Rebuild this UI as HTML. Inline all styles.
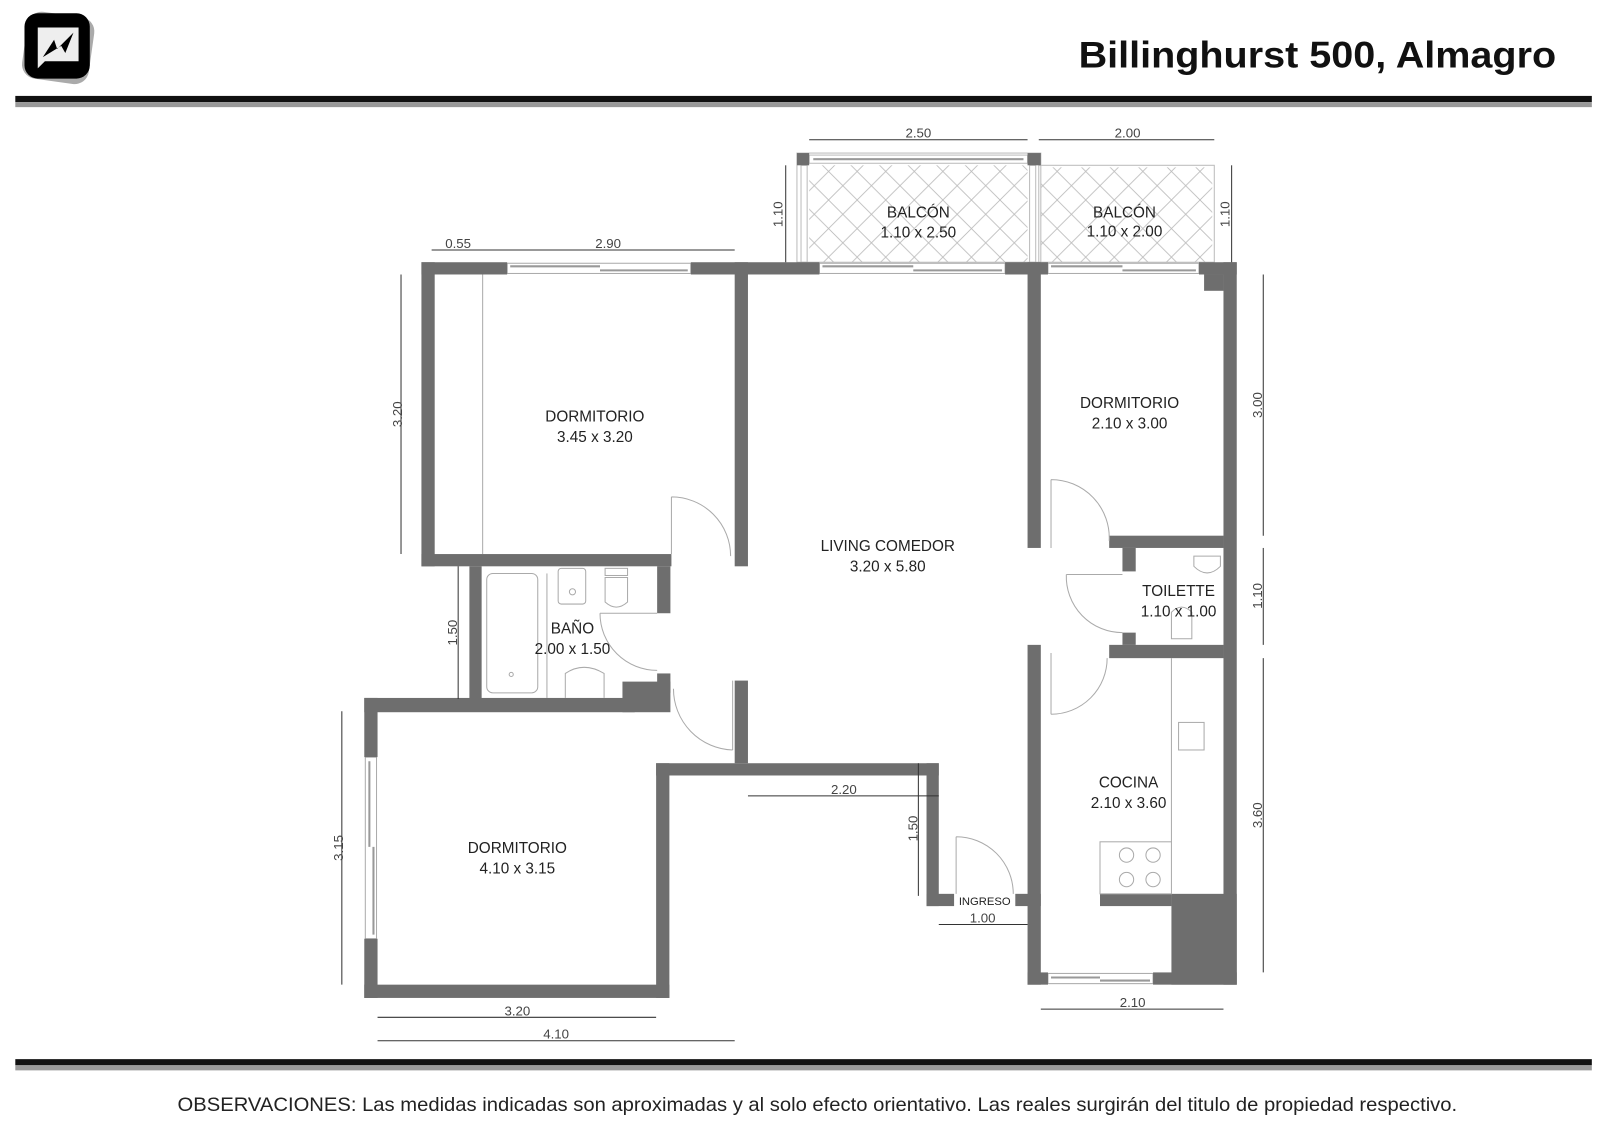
<!DOCTYPE html>
<html><head><meta charset="utf-8">
<style>
html,body{margin:0;padding:0;background:#fff;}
svg{display:block;}
</style></head>
<body>
<svg width="1600" height="1127" viewBox="0 0 1568 1104.5" preserveAspectRatio="none" xmlns="http://www.w3.org/2000/svg">
<defs>
<pattern id="hatch" width="28" height="28" patternUnits="userSpaceOnUse">
<path d="M0 0 L28 28 M28 0 L0 28" stroke="#bbb" stroke-width="0.8" fill="none"/>
</pattern>
</defs>
<rect width="1568" height="1104.5" fill="#fff"/>
<!-- logo -->
<rect x="24" y="14" width="66" height="66" rx="14" fill="#aaa" transform="rotate(8 57 47)"/>
<rect x="24" y="13" width="64" height="64" rx="13" fill="#000"/>
<path d="M37 27 H77 V60 H44 L37 67 Z" fill="#eee"/>
<path d="M42 56 L53 39 L56 48 L72 32 L64 52 L60 45 Z" fill="#000"/>
<!-- title -->
<text x="1525" y="66" text-anchor="end" font-family="Liberation Sans, sans-serif" font-weight="bold" font-size="36" textLength="468" lengthAdjust="spacingAndGlyphs" fill="#111">Billinghurst 500, Almagro</text>
<!-- rules -->
<rect x="15" y="94" width="1545" height="6" fill="#111"/>
<rect x="15" y="100" width="1545" height="5" fill="#999"/>
<rect x="15" y="1038" width="1545" height="6" fill="#111"/>
<rect x="15" y="1044" width="1545" height="5" fill="#999"/>
<text x="174" y="1089" font-family="Liberation Sans, sans-serif" font-size="19" textLength="1254" lengthAdjust="spacingAndGlyphs" fill="#222">OBSERVACIONES: Las medidas indicadas son aproximadas y al solo efecto orientativo. Las reales surgirán del titulo de propiedad respectivo.</text>

<!-- balconies -->
<rect x="793" y="162" width="214" height="95" fill="url(#hatch)"/>
<rect x="1020" y="164" width="168" height="93" fill="url(#hatch)"/>
<g fill="none" stroke="#bbb" stroke-width="1">
<rect x="781" y="150" width="239" height="107"/>
<rect x="785" y="162" width="6" height="95"/>
<rect x="1009" y="162" width="6" height="95"/>
<rect x="1018" y="162" width="172" height="95"/>
<rect x="793" y="152" width="214" height="8"/>
<line x1="797" y1="156" x2="1003" y2="156" stroke="#999" stroke-width="2"/>
</g>
<g fill="#6e6e6e">
<rect x="781" y="150" width="12" height="12"/>
<rect x="1007" y="150" width="13" height="12"/>
</g>

<!-- windows in top wall -->
<g fill="#fff" stroke="#aaa" stroke-width="1">
<rect x="497" y="258" width="180" height="10"/>
<rect x="803" y="258" width="182" height="10"/>
<rect x="1027" y="258" width="148" height="10"/>
<rect x="1027" y="954" width="103" height="10"/>
<rect x="358" y="742" width="11" height="178"/>
</g>
<g stroke="#999" stroke-width="2">
<line x1="500" y1="261" x2="588" y2="261"/><line x1="588" y1="265" x2="674" y2="265"/>
<line x1="806" y1="261" x2="895" y2="261"/><line x1="895" y1="265" x2="982" y2="265"/>
<line x1="1030" y1="261" x2="1100" y2="261"/><line x1="1100" y1="265" x2="1172" y2="265"/>
<line x1="1030" y1="958" x2="1078" y2="958"/><line x1="1078" y1="961" x2="1127" y2="961"/>
<line x1="362" y1="746" x2="362" y2="830"/><line x1="366" y1="830" x2="366" y2="916"/>
</g>

<!-- walls -->
<g fill="#6e6e6e">
<rect x="413" y="257" width="84" height="12"/>
<rect x="677" y="257" width="126" height="12"/>
<rect x="985" y="257" width="42" height="12"/>
<rect x="1175" y="257" width="37" height="12"/>
<rect x="1180" y="269" width="19" height="16"/>
<rect x="413" y="257" width="13" height="298"/>
<rect x="413" y="543" width="245" height="12"/>
<rect x="720" y="257" width="13" height="298"/>
<rect x="460" y="555" width="12" height="130"/>
<rect x="644" y="555" width="13" height="46"/>
<rect x="644" y="660" width="13" height="19"/>
<rect x="610" y="668" width="47" height="30"/>
<rect x="357" y="684" width="265" height="14"/>
<rect x="357" y="684" width="13" height="58"/>
<rect x="357" y="920" width="13" height="58"/>
<rect x="357" y="965" width="299" height="13"/>
<rect x="643" y="748" width="13" height="230"/>
<rect x="643" y="748" width="277" height="12"/>
<rect x="720" y="667" width="13" height="81"/>
<rect x="908" y="748" width="12" height="140"/>
<rect x="908" y="876" width="27" height="12"/>
<rect x="995" y="876" width="25" height="12"/>
<rect x="1007" y="257" width="13" height="280"/>
<rect x="1007" y="632" width="13" height="333"/>
<rect x="1199" y="257" width="13" height="708"/>
<rect x="1007" y="953" width="20" height="12"/>
<rect x="1130" y="953" width="82" height="12"/>
<rect x="1087" y="525" width="112" height="12"/>
<rect x="1100" y="537" width="13" height="23"/>
<rect x="1100" y="620" width="13" height="12"/>
<rect x="1087" y="632" width="112" height="13"/>
<rect x="1078" y="876" width="70" height="12"/>
<rect x="1148" y="876" width="64" height="89"/>
</g>

<!-- fixtures & doors -->
<g fill="none" stroke="#aaa" stroke-width="1">
<line x1="473" y1="269" x2="473" y2="543"/>
<rect x="477" y="562" width="50" height="117" rx="6"/>
<circle cx="501" cy="661" r="2"/>
<rect x="547" y="557" width="27" height="35" rx="3"/>
<circle cx="561" cy="580" r="3"/>
<rect x="593" y="557" width="22" height="7"/>
<path d="M593 566 H615 V590 Q604 600 593 590 Z"/>
<path d="M554 684 V660 Q572 648 592 660 V684"/>
<line x1="536" y1="562" x2="536" y2="684"/>
<path d="M588 601 H644 M588 601 A56 56 0 0 0 644 657"/>
<path d="M658 487 V543 M658 487 A58 58 0 0 1 716 545"/>
<path d="M718 667 V735 M660 675 A60 60 0 0 0 718 735"/>
<path d="M937 820 V876 M937 820 A56 56 0 0 1 993 876"/>
<path d="M1030 470 V537 M1030 470 A57 57 0 0 1 1087 530"/>
<path d="M1045 563 H1100 M1045 563 A55 55 0 0 0 1100 620"/>
<path d="M1030 640 V700 M1030 700 A55 55 0 0 0 1085 645"/>
<path d="M1170 545 H1196 V555 Q1183 568 1170 555 Z"/>
<path d="M1148 600 V626 H1168 V600 Q1158 590 1148 600 Z"/>
<line x1="1148" y1="645" x2="1148" y2="825"/>
<rect x="1155" y="708" width="25" height="27"/>
<rect x="1078" y="825" width="70" height="51"/>
<circle cx="1104" cy="838" r="7"/><circle cx="1130" cy="838" r="7"/>
<circle cx="1104" cy="862" r="7"/><circle cx="1130" cy="862" r="7"/>
</g>

<!-- dimensions -->
<g stroke="#333" stroke-width="1" fill="none">
<line x1="423" y1="245" x2="720" y2="245"/>
<line x1="793" y1="137" x2="1007" y2="137"/>
<line x1="1018" y1="137" x2="1190" y2="137"/>
<line x1="770" y1="162" x2="770" y2="257"/>
<line x1="1207" y1="162" x2="1207" y2="257"/>
<line x1="393" y1="269" x2="393" y2="543"/>
<line x1="449" y1="555" x2="449" y2="685"/>
<line x1="335" y1="697" x2="335" y2="965"/>
<line x1="370" y1="997" x2="643" y2="997"/>
<line x1="370" y1="1020" x2="720" y2="1020"/>
<line x1="733" y1="780" x2="920" y2="780"/>
<line x1="900" y1="748" x2="900" y2="878"/>
<line x1="920" y1="906" x2="1007" y2="906"/>
<line x1="1020" y1="989" x2="1199" y2="989"/>
<line x1="1238" y1="269" x2="1238" y2="525"/>
<line x1="1238" y1="537" x2="1238" y2="632"/>
<line x1="1238" y1="645" x2="1238" y2="953"/>
</g>
<g font-family="Liberation Sans, sans-serif" font-size="13" fill="#444" text-anchor="middle">
<text x="449" y="243">0.55</text>
<text x="596" y="243">2.90</text>
<text x="900" y="135">2.50</text>
<text x="1105" y="135">2.00</text>
<text x="507" y="995">3.20</text>
<text x="545" y="1018">4.10</text>
<text x="827" y="778">2.20</text>
<text x="963" y="904">1.00</text>
<text x="1110" y="987">2.10</text>
<text transform="translate(767 210) rotate(-90)">1.10</text>
<text transform="translate(1205 210) rotate(-90)">1.10</text>
<text transform="translate(394 406) rotate(-90)">3.20</text>
<text transform="translate(448 620) rotate(-90)">1.50</text>
<text transform="translate(336 831) rotate(-90)">3.15</text>
<text transform="translate(899 812) rotate(-90)">1.50</text>
<text transform="translate(1237 397) rotate(-90)">3.00</text>
<text transform="translate(1237 584) rotate(-90)">1.10</text>
<text transform="translate(1237 799) rotate(-90)">3.60</text>
</g>

<!-- room labels -->
<g font-family="Liberation Sans, sans-serif" font-size="15" fill="#222" text-anchor="middle">
<text x="900" y="213">BALCÓN</text><text x="900" y="233">1.10 x 2.50</text>
<text x="1102" y="213">BALCÓN</text><text x="1102" y="232">1.10 x 2.00</text>
<text x="583" y="413">DORMITORIO</text><text x="583" y="433">3.45 x 3.20</text>
<text x="1107" y="400">DORMITORIO</text><text x="1107" y="420">2.10 x 3.00</text>
<text x="870" y="540">LIVING COMEDOR</text><text x="870" y="560">3.20 x 5.80</text>
<text x="1155" y="584">TOILETTE</text><text x="1155" y="604">1.10 x 1.00</text>
<text x="561" y="621">BAÑO</text><text x="561" y="641">2.00 x 1.50</text>
<text x="1106" y="772">COCINA</text><text x="1106" y="792">2.10 x 3.60</text>
<text x="507" y="836">DORMITORIO</text><text x="507" y="856">4.10 x 3.15</text>
<text x="965" y="887" font-size="11">INGRESO</text>
</g>
</svg>
</body></html>
